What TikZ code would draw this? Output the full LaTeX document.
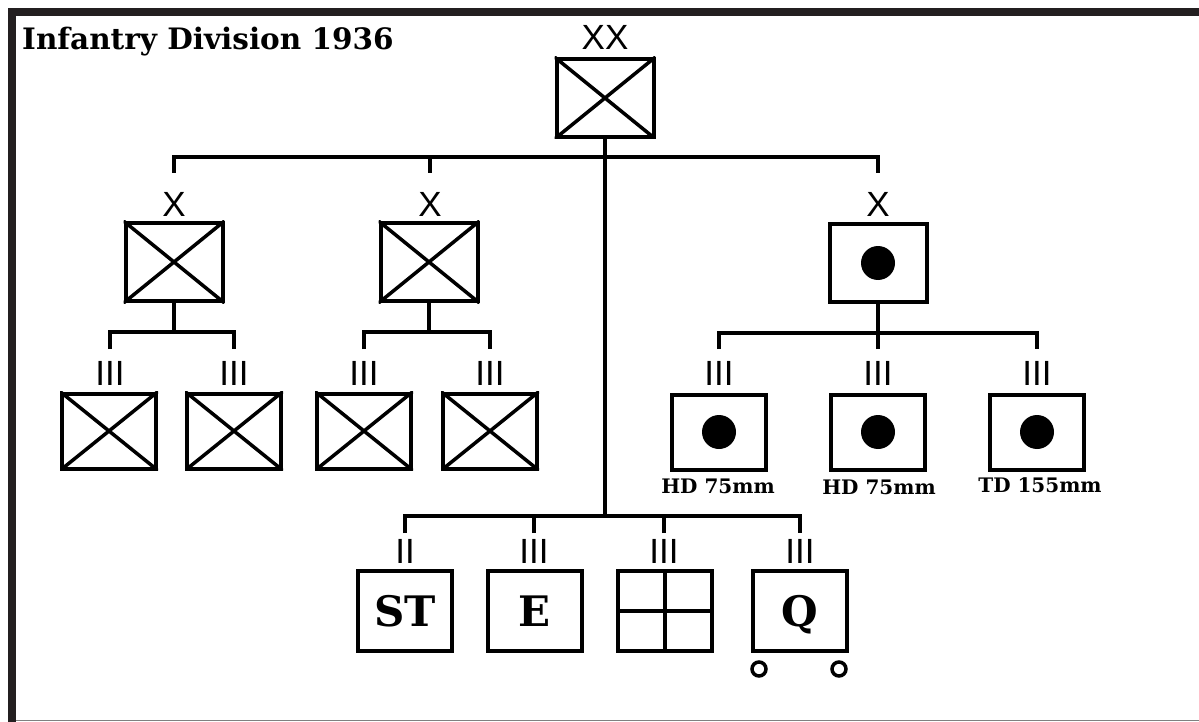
\documentclass[tikz,border=0pt]{standalone}
\usepackage{fontspec}
\setmainfont{DejaVu Serif}
\newfontfamily\labfont{Liberation Sans}
\definecolor{framecol}{HTML}{231F20}
\newcommand{\crossbox}[1]{%
  \begin{scope}
    \clip (#1.north west) rectangle (#1.south east);
    \draw[cross] (#1.north west) -- (#1.south east) (#1.north east) -- (#1.south west);
  \end{scope}}
\begin{document}
\begin{tikzpicture}[x=1pt,y=-1pt,
  conn/.style={line width=4pt},
  bigbox/.style={draw, line width=4pt, minimum width=97pt, minimum height=78pt, inner sep=0pt},
  regbox/.style={draw, line width=4pt, minimum width=94pt, minimum height=75pt, inner sep=0pt},
  supbox/.style={draw, line width=4pt, minimum width=94pt, minimum height=80pt, inner sep=0pt, text depth=0pt, font=\bfseries\fontsize{42}{42}\selectfont},
  echelon/.style={font=\labfont\fontsize{35}{35}\selectfont, inner sep=0pt, anchor=base},
  cross/.style={line width=3.5pt},
  caption/.style={font=\bfseries\fontsize{20}{20}\selectfont, inner sep=0pt, anchor=base},
  gun/.style={fill=black},
  wheel/.style={line width=3.5pt},
]
\useasboundingbox (0,0) rectangle (1199,722);
\fill[white] (0,0) rectangle (1199,722);
\fill[framecol] (8,8) rectangle (1199,16);
\fill[framecol] (8,8) rectangle (16,722);
\draw[gray, line width=1.5pt] (16,720.5) -- (1199,720.5);

% title
\node[anchor=base west, inner sep=0pt, font=\bfseries\fontsize{29.5}{30}\selectfont] (title) at (22,50) {Infantry Division 1936};

% division
\node[echelon] (lxx) at (605,50) {XX};
\node[bigbox] (xx) at (605,98) {};
\crossbox{xx}

% top bus
\coordinate (topbus) at (0,157);
\coordinate (t1) at (174,173);
\coordinate (t2) at (430,173);
\coordinate (t3) at (878,173);
\draw[conn] (t1) -- (t1 |- topbus) -- (t3 |- topbus) -- (t3);
\draw[conn] (t2) -- (t2 |- topbus);
\coordinate (botbus) at (0,516);
\draw[conn] (xx.south) -- (xx.south |- botbus);

% brigades
\node[echelon] (lb1) at (174,217) {X};
\node[echelon] (lb2) at (430,217) {X};
\node[echelon] (lb3) at (878,217) {X};
\node[bigbox] (b1) at (174,262) {};
\node[bigbox] (b2) at (429,262) {};
\node[bigbox] (b3) at (878,263) {};
\crossbox{b1}
\crossbox{b2}
\fill[gun] (b3.center) circle[radius=17];

% regiment buses
\coordinate (rbus) at (0,332);
\coordinate (rbusr) at (0,333);
\draw[conn] (b1.south) -- (b1.south |- rbus);
\draw[conn] (b2.south) -- (b2.south |- rbus);
\draw[conn] (b3.south) -- (b3.south |- rbusr);
\coordinate (r1t) at (110,349);
\coordinate (r2t) at (234,349);
\coordinate (r3t) at (364,349);
\coordinate (r4t) at (490,349);
\coordinate (a1t) at (719,349);
\coordinate (a2t) at (878,349);
\coordinate (a3t) at (1037,349);
\draw[conn] (r1t) -- (r1t |- rbus) -- (r2t |- rbus) -- (r2t);
\draw[conn] (r3t) -- (r3t |- rbus) -- (r4t |- rbus) -- (r4t);
\draw[conn] (a1t) -- (a1t |- rbusr) -- (a3t |- rbusr) -- (a3t);
\draw[conn] (a2t) -- (a2t |- rbusr);

% regiment labels
\node[echelon] (lr1) at (110,385) {III};
\node[echelon] (lr2) at (234,385) {III};
\node[echelon] (lr3) at (364,385) {III};
\node[echelon] (lr4) at (490,385) {III};
\node[echelon] (la1) at (719,385) {III};
\node[echelon] (la2) at (878,385) {III};
\node[echelon] (la3) at (1037,385) {III};

% regiments
\foreach \n/\x in {r1/109, r2/234, r3/364, r4/490} {
  \node[regbox] (\n) at (\x,431) {};
  \crossbox{\n}
}
\foreach \n/\x in {a1/719, a2/878, a3/1037} {
  \node[regbox] (\n) at (\x,432) {};
  \fill[gun] (\n.center) circle[radius=17];
}
\node[caption] (ca1) at (718,493) {HD 75mm};
\node[caption] (ca2) at (879,494) {HD 75mm};
\node[caption] (ca3) at (1040,492) {TD 155mm};

% support units
\coordinate (s1t) at (405,533);
\coordinate (s2t) at (534,533);
\coordinate (s3t) at (664,533);
\coordinate (s4t) at (800,533);
\draw[conn] (s1t) -- (s1t |- botbus) -- (s4t |- botbus) -- (s4t);
\draw[conn] (s2t) -- (s2t |- botbus);
\draw[conn] (s3t) -- (s3t |- botbus);
\node[echelon] (ls1) at (405,563) {II};
\node[echelon] (ls2) at (534,563) {III};
\node[echelon] (ls3) at (664,563) {III};
\node[echelon] (ls4) at (800,563) {III};
\node[supbox] (st) at (405,611) {ST};
\node[supbox] (eng) at (534.5,611) {E};
\node[supbox] (sig) at (665,611) {};
\node[supbox] (q) at (800,611) {Q};
\draw[cross] (sig.north) -- (sig.south) (sig.west) -- (sig.east);
\draw[wheel] ([xshift=-41pt,yshift=-16pt]q.south) circle[radius=7];
\draw[wheel] ([xshift=39pt,yshift=-16pt]q.south) circle[radius=7];
\end{tikzpicture}
\end{document}
